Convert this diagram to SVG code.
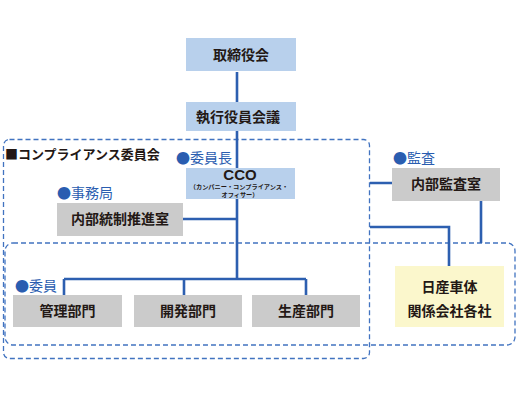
<svg xmlns="http://www.w3.org/2000/svg" width="517" height="400" viewBox="0 0 517 400">
<style>
.frame{fill:none;stroke:#4173c0;stroke-width:1.3;stroke-dasharray:5 3}
.con{fill:none;stroke:#2d5fb0;stroke-width:2.6}
.blue{fill:#b8d0ec}
.gray{fill:#cbcbcb}
.yel{fill:#fbf7cc}
.t{font-family:"Noto Sans CJK JP","Noto Sans",sans-serif;font-size:14px;font-weight:bold;fill:#231815;text-anchor:middle}
.lbl{font-family:"Noto Sans CJK JP","Noto Sans",sans-serif;font-size:14px;fill:#2a5db0}
.sub{font-family:"Noto Sans CJK JP","Noto Sans",sans-serif;font-size:6.2px;font-weight:bold;fill:#231815;text-anchor:middle}
</style>
<rect width="517" height="400" fill="#ffffff"/>
<g id="frames">
<rect class="frame" x="3.5" y="139.5" width="366" height="219" rx="6"/>
<rect class="frame" x="5" y="243" width="510" height="102" rx="8"/>
</g>
<g id="connectors">
<path class="con" d="M237 72V102M237 131V168M237 199V279M183 219H237M64 279H306M64 279V295M184 279V295M306 279V295M370 183H392M370 227H449V266M481 201V243"/>
</g>
<g id="title"><text x="5" y="159" font-family="'Noto Sans CJK JP','Noto Sans',sans-serif" font-size="13" font-weight="bold" fill="#231815">■コンプライアンス委員会</text></g>
<g id="board"><rect class="blue" x="186" y="38" width="110" height="33"/><text class="t" x="241" y="60">取締役会</text></g>
<g id="exec"><rect class="blue" x="186" y="102" width="110" height="29"/><text class="t" x="238" y="121.5">執行役員会議</text></g>
<g id="cco">
<text class="lbl" x="176" y="163">●委員長</text>
<rect class="blue" x="186" y="168" width="109" height="31"/>
<text x="240" y="180" font-family="'Liberation Sans',Arial,sans-serif" font-size="15" font-weight="bold" fill="#231815" text-anchor="middle">CCO</text>
<text class="sub" x="239" y="189">（カンパニー・コンプライアンス・</text>
<text class="sub" x="240" y="196.5">オフィサー）</text>
</g>
<g id="secretariat">
<text class="lbl" x="57" y="198">●事務局</text>
<rect class="gray" x="57" y="203" width="126" height="33"/>
<text class="t" x="120" y="224">内部統制推進室</text>
</g>
<g id="audit">
<text class="lbl" x="393" y="163">●監査</text>
<rect class="gray" x="392" y="168" width="108" height="33"/>
<text class="t" x="446" y="189">内部監査室</text>
</g>
<g id="members"><text class="lbl" x="15" y="291">●委員</text></g>
<g id="kanri"><rect class="gray" x="13" y="295" width="109" height="32"/><text class="t" x="67.5" y="316">管理部門</text></g>
<g id="kaihatsu"><rect class="gray" x="134" y="295" width="108" height="32"/><text class="t" x="188" y="316">開発部門</text></g>
<g id="seisan"><rect class="gray" x="252" y="295" width="108" height="32"/><text class="t" x="306" y="316">生産部門</text></g>
<g id="nissan">
<rect class="yel" x="395" y="266" width="109" height="61"/>
<text class="t" x="449.5" y="292">日産車体</text>
<text class="t" x="449.5" y="316">関係会社各社</text>
</g>
</svg>
